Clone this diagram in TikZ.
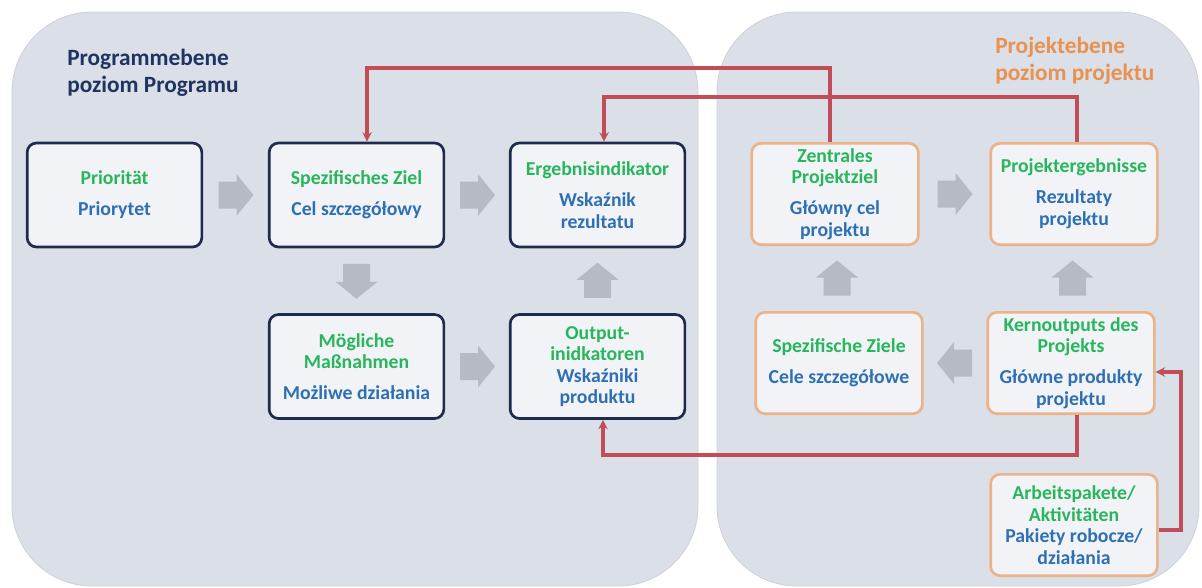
\documentclass[tikz,border=0pt]{standalone}
\usepackage{fontspec}
\setmainfont{Carlito}
\usetikzlibrary{calc,arrows.meta}
\definecolor{panelfill}{RGB}{219,223,231}
\definecolor{boxfill}{RGB}{242,243,247}
\definecolor{navy}{RGB}{30,42,78}
\definecolor{titlenavy}{RGB}{32,52,98}
\definecolor{orangeline}{RGB}{236,178,136}
\definecolor{titleorange}{RGB}{232,146,82}
\definecolor{txtgreen}{RGB}{40,182,92}
\definecolor{txtblue}{RGB}{46,112,180}
\definecolor{redline}{RGB}{192,78,88}
\definecolor{arrowgray}{RGB}{182,186,196}
\newcommand\gt[1]{\textcolor{txtgreen}{#1}}
\newcommand\bt[1]{\textcolor{txtblue}{#1}}
\tikzset{
  panel/.style={fill=panelfill, draw=panelfill!85!gray, line width=0.6pt, rounded corners=60pt},
  progbox/.style={draw=navy, line width=2pt, fill=boxfill, rounded corners=7pt,
    minimum width=131pt, minimum height=78pt, align=center, inner sep=2pt,
    font=\bfseries\fontsize{14.8}{16.2}\selectfont},
  projbox/.style={progbox, draw=orangeline, minimum width=125pt, minimum height=76pt},
  redarrow/.style={draw=redline, line width=2.3pt, -{Stealth[length=7pt,width=7pt]}},
  titletext/.style={anchor=north west, align=left, inner sep=0pt,
    font=\bfseries\fontsize{17.5}{20}\selectfont},
  pics/garrow/.style={code={\fill[arrowgray] (-17,-13.5) -- (1,-13.5) -- (1,-21) -- (18,0) -- (1,21) -- (1,13.5) -- (-17,13.5) -- cycle;}}
}
\begin{document}
\begin{tikzpicture}[x=0.75pt,y=-0.75pt]
\useasboundingbox (0,0) rectangle (1202,587);
% panels
\path[panel] (12,12) rectangle (698,586);
\path[panel] (717,12) rectangle (1199,586);
% titles
\node[titletext, text=titlenavy] (t1) at (67,49) {Programmebene\\poziom Programu};
\node[titletext, text=titleorange] (t2) at (995,37) {Projektebene\\poziom projektu};
% program boxes
\node[progbox] (prio) at (114.5,195) {\gt{Priorität}\\[7pt]\bt{Priorytet}};
\node[progbox] (spez) at (356.5,195) {\gt{Spezifisches Ziel}\\[7pt]\bt{Cel szczegółowy}};
\node[progbox] (erg) at (597.5,195) {\gt{Ergebnisindikator}\\[7pt]\bt{Wskaźnik}\\\bt{rezultatu}};
\node[progbox] (moeg) at (356.5,366.5) {\gt{Mögliche}\\\gt{Maßnahmen}\\[7pt]\bt{Możliwe działania}};
\node[progbox] (outp) at (597.5,366.5) {\gt{Output-}\\\gt{inidkatoren}\\\bt{Wskaźniki}\\\bt{produktu}};
% project boxes
\node[projbox] (zent) at (835,194) {\gt{Zentrales}\\\gt{Projektziel}\\[7pt]\bt{Główny cel}\\\bt{projektu}};
\node[projbox] (proj) at (1074,194) {\gt{Projektergebnisse}\\[7pt]\bt{Rezultaty}\\\bt{projektu}};
\node[projbox] (sziele) at (839,363) {\gt{Spezifische Ziele}\\[7pt]\bt{Cele szczegółowe}};
\node[projbox] (kern) at (1071,363) {\gt{Kernoutputs des}\\\gt{Projekts}\\[7pt]\bt{Główne produkty}\\\bt{projektu}};
\node[projbox] (arb) at (1074,525) {\gt{Arbeitspakete/}\\\gt{Aktivitäten}\\\bt{Pakiety robocze/}\\\bt{działania}};
% gray block arrows
\pic at ($(prio.east)!0.5!(spez.west)$) {garrow};
\pic at ($(spez.east)!0.5!(erg.west)$) {garrow};
\pic[rotate=-90] at ($(spez.south)!0.5!(moeg.north)$) {garrow};
\pic[rotate=90] at ($(outp.north)!0.5!(erg.south)$) {garrow};
\pic at ($(moeg.east)!0.5!(outp.west)$) {garrow};
\pic at ($(zent.east)!0.5!(proj.west)$) {garrow};
\pic[rotate=90] at ($(sziele.north)!0.5!(zent.south)$) {garrow};
\pic[rotate=90] at ($(kern.north)!0.5!(proj.south)$) {garrow};
\pic[rotate=180] at ($(kern.west)!0.5!(sziele.east)$) {garrow};
% red connectors
\coordinate (v1) at (830,68);  \coordinate (h1) at (367,68);
\coordinate (v2) at (1077,97); \coordinate (h2) at (604,97);
\coordinate (v3) at (1077,455); \coordinate (h3) at (603,455);
\coordinate (a1) at (1181,530); \coordinate (a2) at (1181,372);
\draw[redarrow] (zent.north -| v1) -- (v1) -- (h1) -- (spez.north -| h1);
\draw[redarrow] (proj.north -| v2) -- (v2) -- (h2) -- (erg.north -| h2);
\draw[redarrow] (kern.south -| v3) -- (v3) -- (h3) -- (outp.south -| h3);
\draw[redarrow] (arb.east |- a1) -- (a1) -- (a2) -- (kern.east |- a2);
\end{tikzpicture}
\end{document}
